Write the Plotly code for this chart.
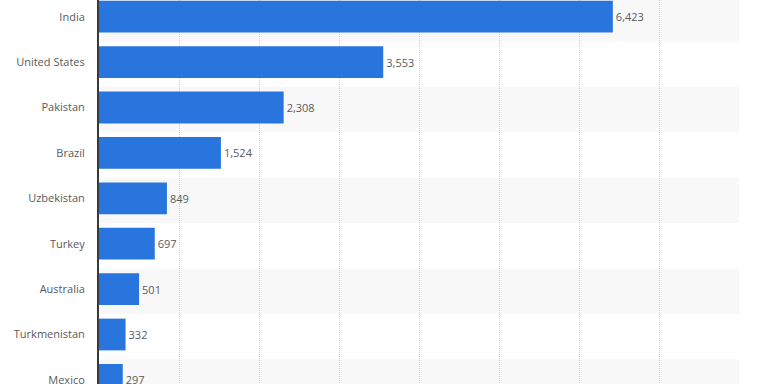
import plotly.graph_objects as go

countries = ["India", "United States", "Pakistan", "Brazil", "Uzbekistan",
             "Turkey", "Australia", "Turkmenistan", "Mexico"]
values = [6423, 3553, 2308, 1524, 849, 697, 501, 332, 297]
labels = [f"{v:,}" for v in values]

BAR = "#2876dd"
TXT = "#5a5a5a"

fig = go.Figure()
fig.add_trace(go.Bar(
    x=values, y=countries, orientation="h",
    marker=dict(color=BAR, line=dict(width=0)),
    text=labels, textposition="outside", cliponaxis=False,
    textfont=dict(family="Open Sans", size=11, color=TXT),
    width=0.70, hoverinfo="skip",
))

shapes = []
for i, c in enumerate(countries):
    if i % 2 == 0:
        shapes.append(dict(type="rect", xref="x", yref="y",
                           x0=0, x1=8000, y0=i - 0.5 + 0.045, y1=i + 0.5 + 0.045,
                           fillcolor="#f8f8f8", line=dict(width=0), layer="below"))

fig.update_layout(
    width=768, height=384,
    margin=dict(l=99, r=29, t=0, b=0),
    paper_bgcolor="white", plot_bgcolor="white",
    shapes=shapes,
    showlegend=False,
    font=dict(family="Open Sans", size=11, color=TXT),
)
fig.update_xaxes(range=[0, 8000], showticklabels=False, showgrid=True,
                 gridcolor="#d0d0d0", griddash="1px,1px", gridwidth=1,
                 dtick=1000, zeroline=False, showline=False, layer="below traces",
                 automargin=False)
fig.update_yaxes(range=[8.09, -0.368], type="category", showgrid=False,
                 showline=True, linecolor="#3a3a3a", linewidth=2,
                 ticks="", ticklabelstandoff=10, automargin=False,
                 tickfont=dict(family="Open Sans", size=11, color=TXT))

fig.write_html("out.html",
               config={"displayModeBar": False, "staticPlot": True},
               post_script="document.body.style.margin='0px';document.body.style.overflow='hidden';")
